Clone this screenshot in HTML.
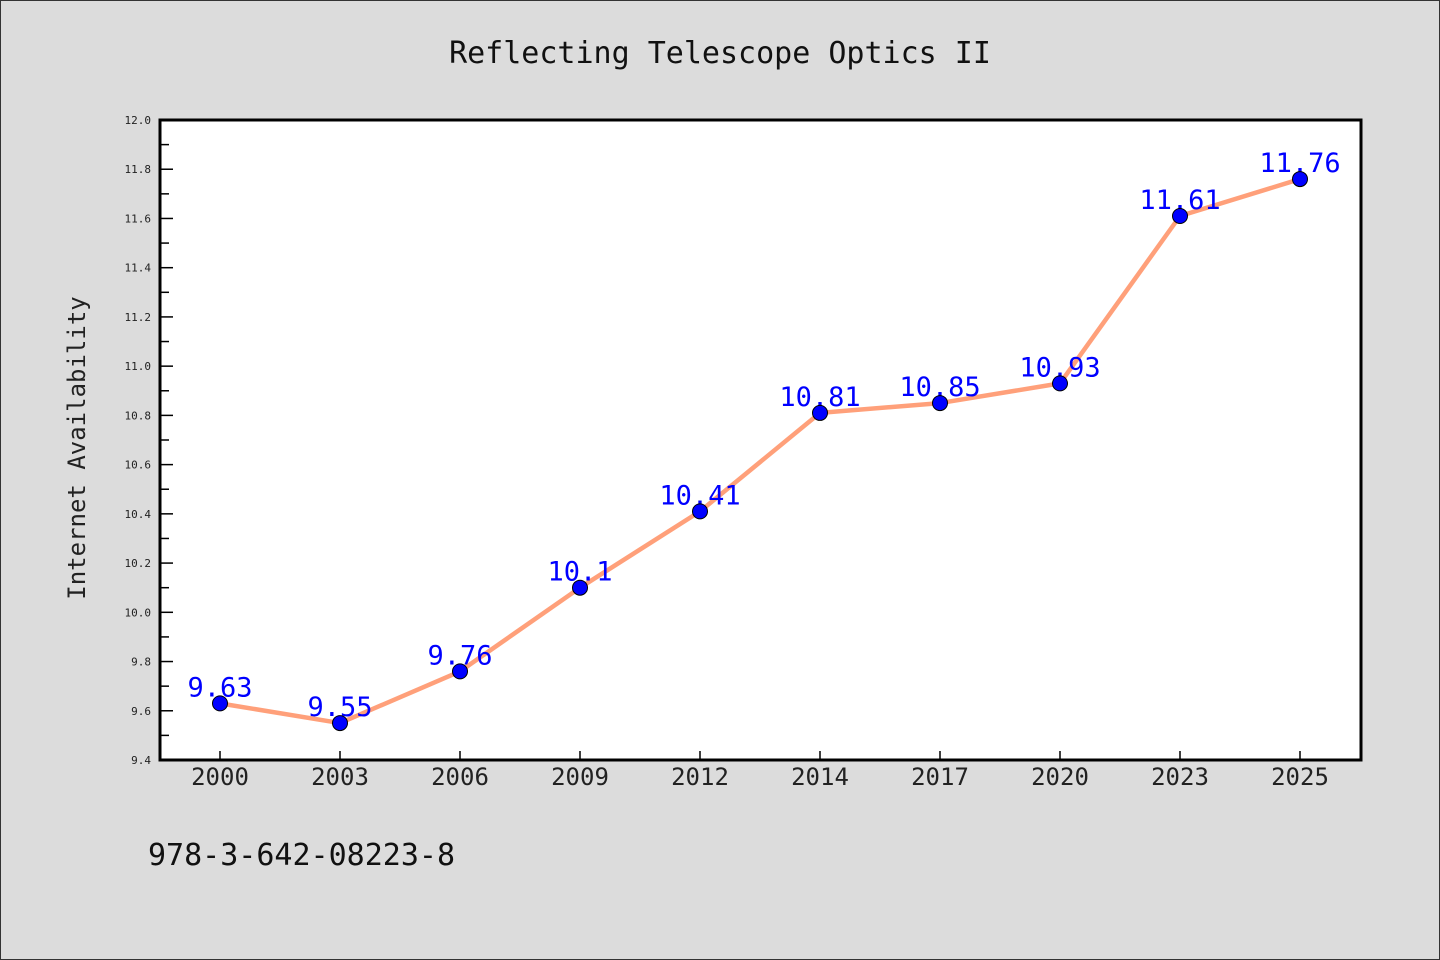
<!DOCTYPE html>
<html><head><meta charset="utf-8"><style>
html,body{margin:0;padding:0;background:#dcdcdc}
svg{display:block}
text{font-family:"WenQuanYi Zen Hei Mono","WenQuanYi Zen Hei Sharp","DejaVu Sans Mono","Liberation Mono",monospace}
</style></head><body>
<svg id="chart" width="1440" height="960" xmlns="http://www.w3.org/2000/svg">
<rect x="0.5" y="0.5" width="1439" height="959" fill="#dcdcdc" stroke="#333"/>
<text x="720" y="63" font-size="30" text-anchor="middle" fill="#111">Reflecting Telescope Optics II</text>
<rect x="160" y="120" width="1201" height="640" fill="#fff"/>
<g id="marks"></g>
<rect x="160" y="120" width="1201" height="640" fill="none" stroke="#000" stroke-width="3"/>
<text transform="translate(85,448) rotate(-90)" font-size="24" text-anchor="middle" fill="#222">Internet Availability</text>
<text x="148" y="865" font-size="30" fill="#111">978-3-642-08223-8</text>
</svg>
<script>
const categories=["2000","2003","2006","2009","2012","2014","2017","2020","2023","2025"];
const values=[9.63,9.55,9.76,10.1,10.41,10.81,10.85,10.93,11.61,11.76];
const labels=["9.63","9.55","9.76","10.1","10.41","10.81","10.85","10.93","11.61","11.76"];
const yTicks=["9.4","9.6","9.8","10.0","10.2","10.4","10.6","10.8","11.0","11.2","11.4","11.6","11.8","12.0"];
const yMin=9.4,yMax=12.0;
const NS="http://www.w3.org/2000/svg";
const g=document.getElementById('marks');
const svg=document.getElementById('chart');
const y=v=>760-(v-yMin)/(yMax-yMin)*640;
const x=i=>220+i*(1080/(categories.length-1));
function mk(t,a,p){const e=document.createElementNS(NS,t);for(const k in a)e.setAttribute(k,a[k]);(p||g).appendChild(e);return e;}
for(let v=yMin;v<=yMax+1e-9;v+=0.1){
  const major=Math.round(v*10)%2===0;
  const t=mk('line',{x1:160,x2:160+(major?13:9),y1:y(v),y2:y(v),stroke:'#000','stroke-width':1.5});
  
  
}
yTicks.forEach(s=>{
  const t=mk('text',{x:151,y:y(parseFloat(s))+4,'font-size':11,'text-anchor':'end',fill:'#222'},svg);
  t.textContent=s;
  
  
});
categories.forEach((c,i)=>{
  const t=mk('line',{x1:x(i),x2:x(i),y1:760,y2:751,stroke:'#000','stroke-width':1.5});
  
  
  const l=mk('text',{x:x(i),y:785,'font-size':24,'text-anchor':'middle',fill:'#222'},svg);
  l.textContent=c;
  
  
});
const line=mk('polyline',{points:values.map((v,i)=>x(i)+','+y(v)).join(' '),fill:'none',stroke:'#ffa07a','stroke-width':4.5,'stroke-linejoin':'round'});


values.forEach((v,i)=>{
  const l=mk('text',{x:x(i),y:y(v)-7,'font-size':27,'text-anchor':'middle',fill:'#0000ff'});
  l.textContent=labels[i];
  
  
});
values.forEach((v,i)=>{
  const p=mk('circle',{cx:x(i),cy:y(v),r:7.5,fill:'#0000ff',stroke:'#000','stroke-width':1});
  
  
});
</script>
</body></html>
